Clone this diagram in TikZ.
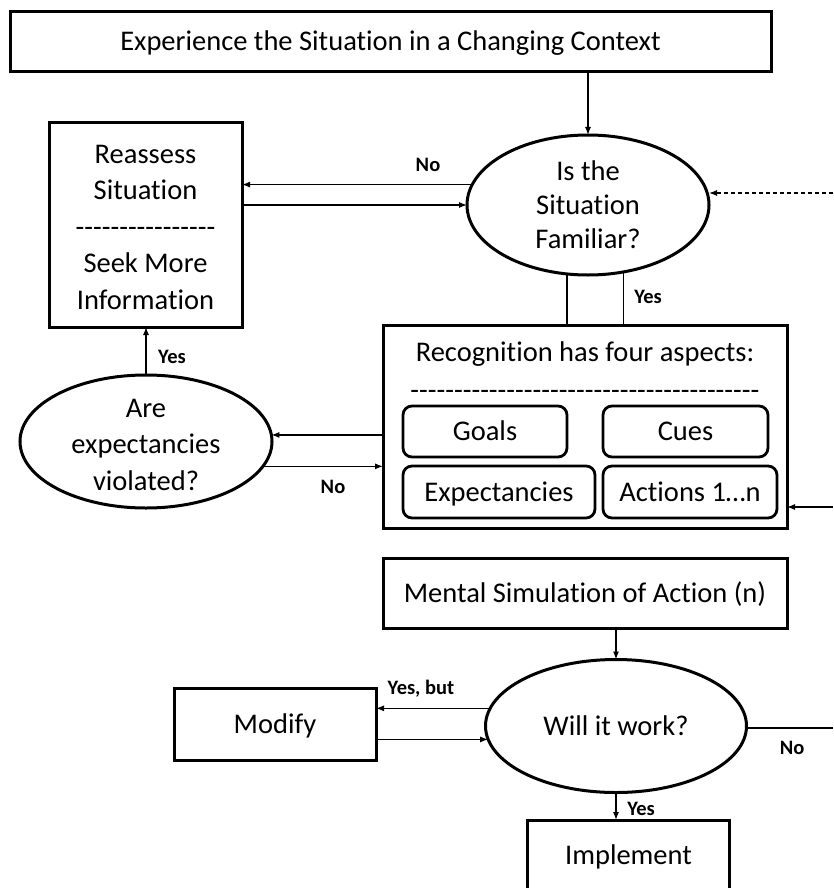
\documentclass[tikz,border=0pt]{standalone}
\usepackage{fontspec}
\setmainfont{Carlito}[Ligatures=NoCommon]
\usetikzlibrary{arrows.meta,shapes.geometric,calc}

% a row of separate hyphens (kept apart so they never join into dashes)
\newcommand\hyrun[1]{\foreach\k in {1,...,#1}{\mbox{-}}}

\begin{document}
\begin{tikzpicture}[x=1pt,y=-1pt,
  every node/.style={font=\fontsize{28.5}{36.5}\selectfont, inner sep=0pt, outer sep=0pt},
  oneline/.style={text height=21pt, text depth=3pt},
  box/.style={draw, line width=3pt, rectangle, align=center},
  oval/.style={draw, line width=3pt, ellipse},
  tag/.style={draw, line width=2.8pt, rounded corners=9pt, rectangle, oneline},
  link/.style={line width=1.2pt},
  arr/.style={link, -{Latex[length=8pt,width=6pt]}},
  lbl/.style={font=\bfseries\fontsize{20.5}{23}\selectfont},
]
\useasboundingbox (0,0) rectangle (833,888);
\clip (0,0) rectangle (833,888);

% ---- boxes and decisions ----
\node[box, oneline, minimum width=761pt, minimum height=60pt] (top) at (390.5,42)
  {Experience the Situation in a Changing Context};

\node[box, minimum width=193pt, minimum height=204pt] (reas) at (145.5,225) {};
\node[align=center] (reastxt) at (145.5,227)
  {Reassess\\Situation\\\hyrun{16}\\Seek More\\Information};

\node[oval, minimum width=242pt, minimum height=140pt] (fam) at (588,205) {};
\node[align=center, font=\fontsize{28.5}{34}\selectfont] (famtxt) at (588,205)
  {Is the\\Situation\\Familiar?};

\node[oval, minimum width=252pt, minimum height=133pt] (exp) at (146,441.5) {};
\node[align=center] (exptxt) at (146,444.5)
  {Are\\expectancies\\violated?};

\node[box, minimum width=404pt, minimum height=203pt] (recog) at (585,426.5) {};
\node (rectitle) at (585,354) {Recognition has four aspects:};
\node[anchor=base] (recdash) at (585,399.5) {\hyrun{40}};
\node[tag, minimum width=164pt, minimum height=51pt] (goals) at (485,431.5) {Goals};
\node[tag, minimum width=165pt, minimum height=51pt] (cues) at (685.5,431.5) {Cues};
\node[tag, minimum width=192pt, minimum height=52pt] (expt) at (499,492) {Expectancies};
\node[tag, minimum width=174pt, minimum height=52pt] (acts) at (690,492) {Actions 1\ldots n};

\node[box, oneline, minimum width=404pt, minimum height=70pt] (ment) at (585,593)
  {Mental Simulation of Action (n)};

\node[oval, oneline, minimum width=261pt, minimum height=133pt] (will) at (616,726) {Will it work?};

\node[box, oneline, minimum width=202pt, minimum height=72pt] (mod) at (275,724) {Modify};

\node[box, oneline, minimum width=202pt, minimum height=70pt] (impl) at (628.5,855) {Implement};

% free ends at the right margin
\coordinate (edgeA) at (833,193);
\coordinate (edgeB) at (833,507);
\coordinate (edgeC) at (833,728);

% ---- connectors ----
\draw[arr] (top.south -| fam.north) -- (fam.north);

\draw[arr] (fam.170) -- (fam.170 -| reas.east);
\draw[arr] (reas.east |- fam.west) -- (fam.west);
\node[lbl] (noA) at (428,165) {No};

\draw[link, dash pattern=on 4pt off 3pt, -{Latex[length=8pt,width=6pt]}]
  (edgeA) -- (edgeA -| fam.east);

\draw[link] (fam.253) -- (fam.253 |- recog.north);
\draw[link] (fam.298) -- (fam.298 |- recog.north);
\node[lbl] (yesA) at (648,297) {Yes};

\draw[arr] (recog.west |- exp.3) -- (exp.3);
\draw[arr] (exp.-12) -- (exp.-12 -| recog.west);
\node[lbl] (noB) at (333,487) {No};

\draw[arr] (exp.north) -- (exp.north |- reas.south);
\node[lbl] (yesB) at (172,357) {Yes};

\draw[arr] (edgeB) -- (edgeB -| recog.east);

\draw[arr] (ment.south -| will.north) -- (will.north);

\draw[arr] (will.172.3) -- (will.172.3 -| mod.east);
\node[lbl] (yesbut) at (421,689) {Yes, but};
\draw[arr] (mod.east |- will.186.3) -- (will.186.3);

\draw[link] (will.east |- edgeC) -- (edgeC);
\node[lbl] (noC) at (792,748) {No};

\draw[arr] (will.south) -- (will.south |- impl.north);
\node[lbl] (yesC) at (641,809) {Yes};
\end{tikzpicture}
\end{document}
